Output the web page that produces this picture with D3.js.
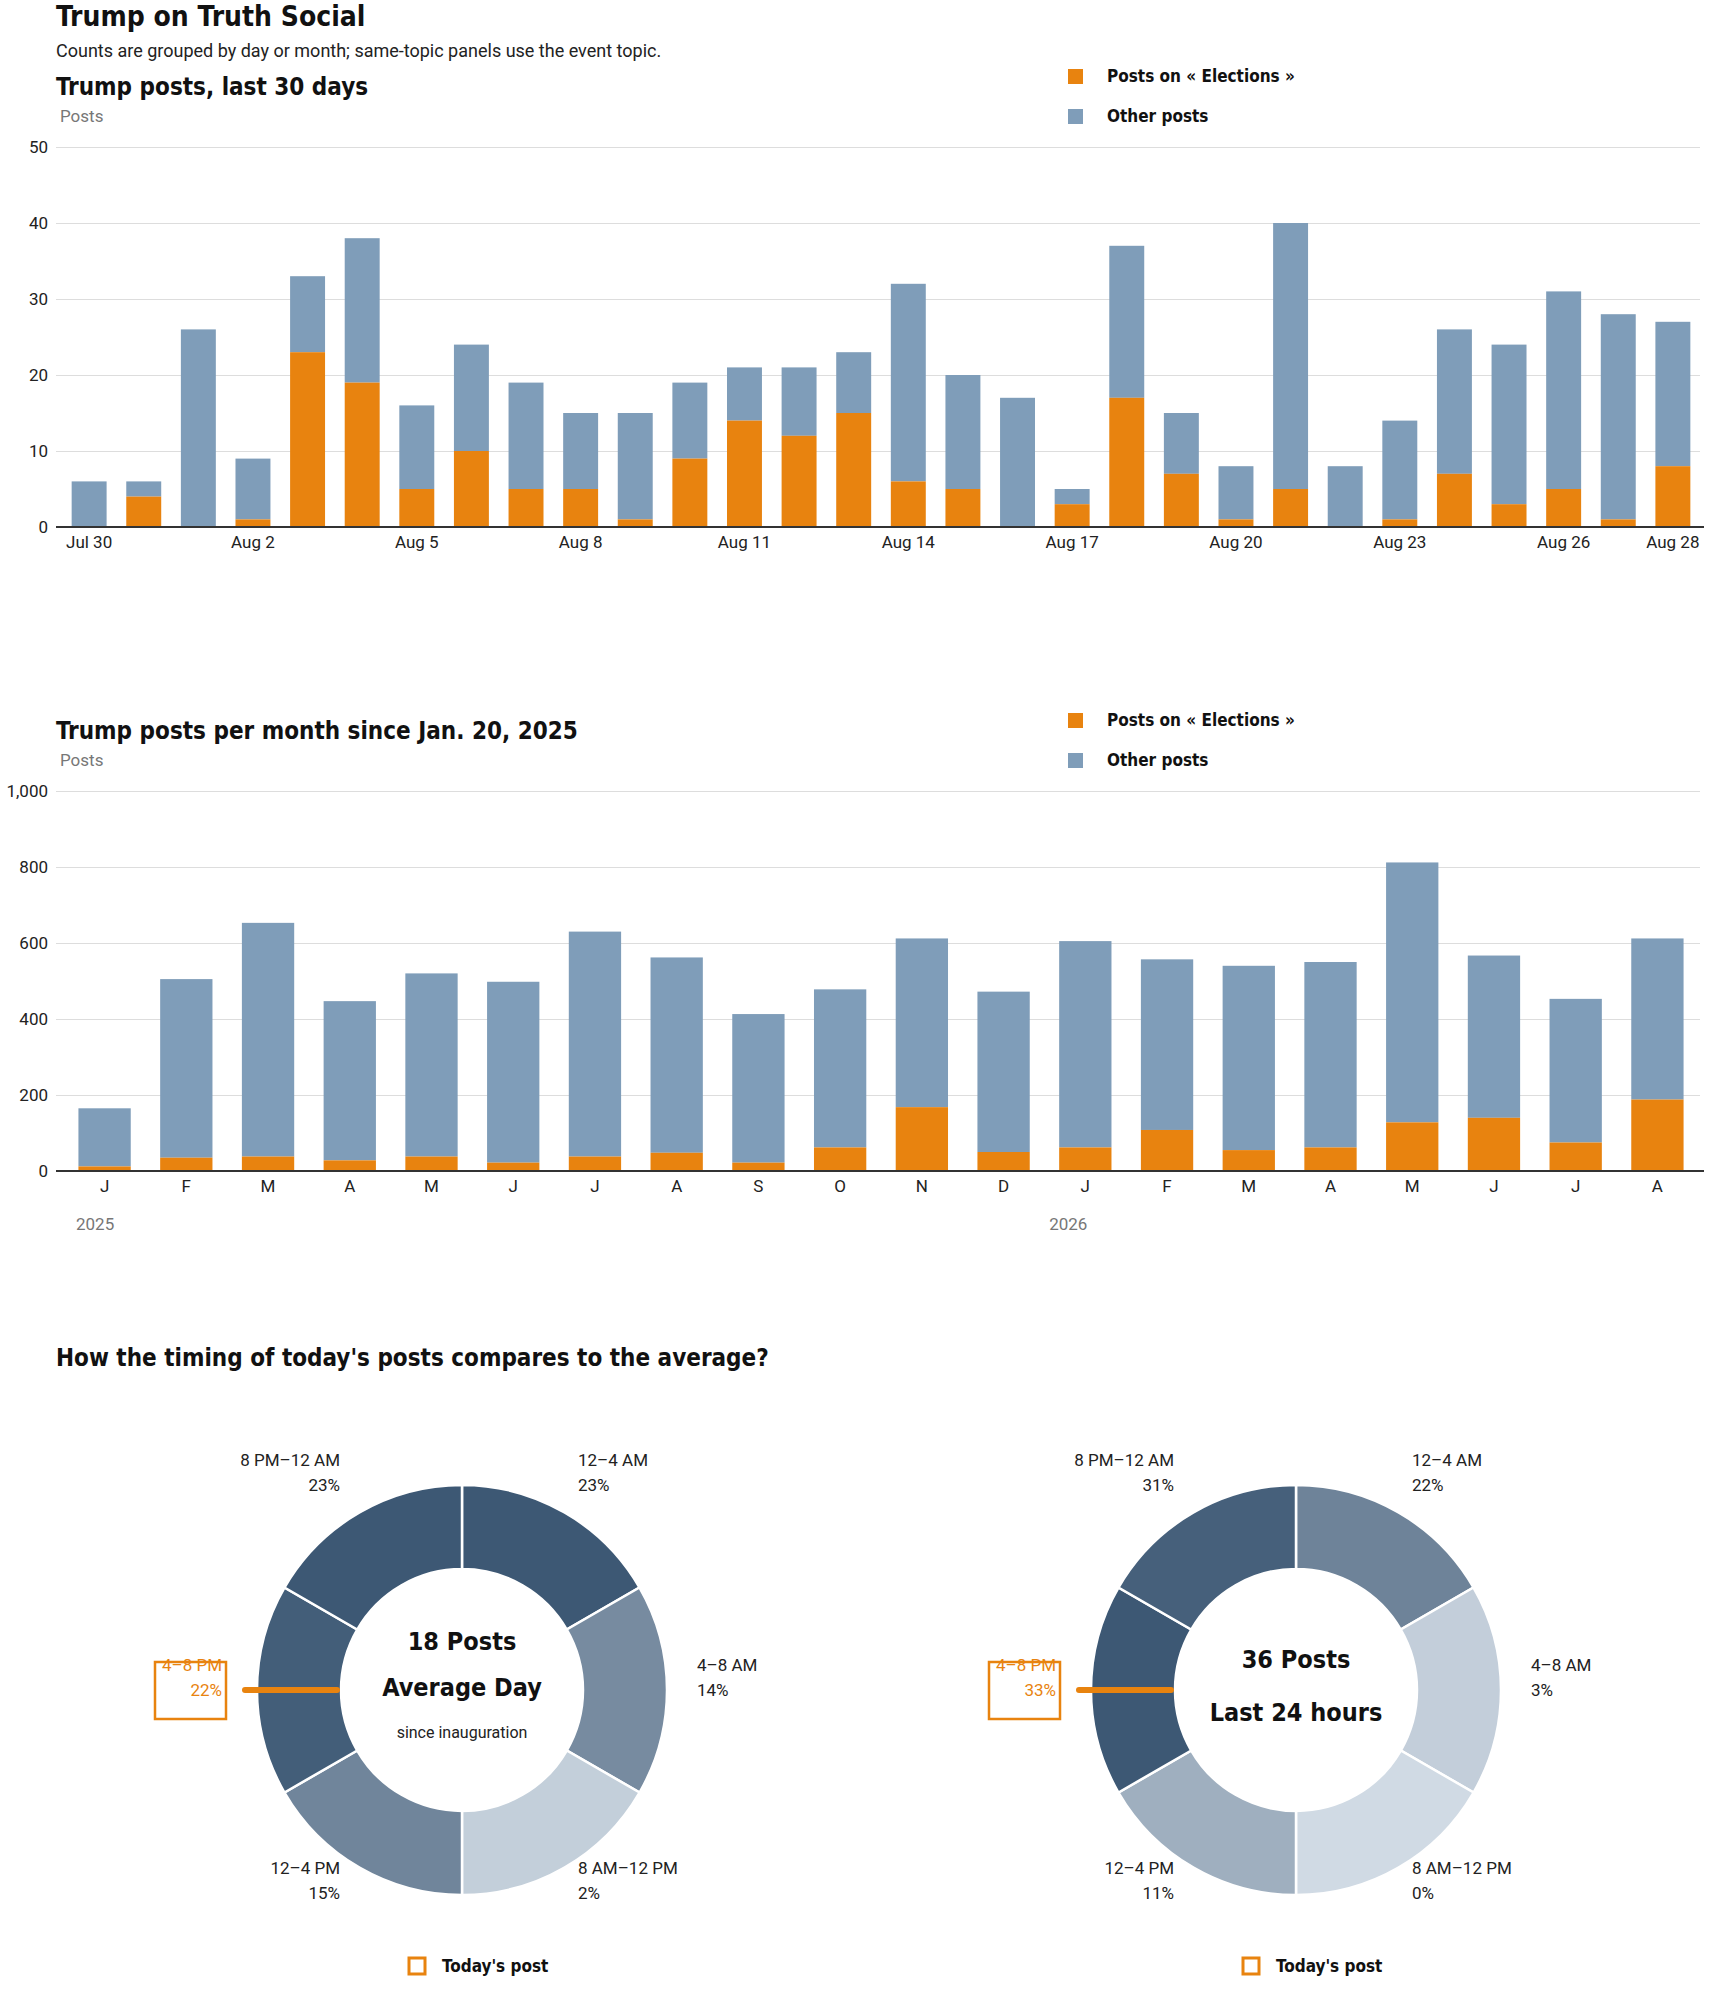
<!DOCTYPE html>
<html><head><meta charset="utf-8">
<script src="https://cdn.jsdelivr.net/npm/d3@7"></script>
<style>
body{margin:0;background:#fff}
text{font-family:Roboto,"Noto Sans",sans-serif}
.hd{font-family:"DejaVu Sans Condensed","DejaVu Sans",sans-serif;font-weight:bold;fill:#111}
</style></head><body>
<svg id="c" width="1710" height="1993"></svg>
<script>
var days = ["Jul 30","Jul 31","Aug 1","Aug 2","Aug 3","Aug 4","Aug 5","Aug 6","Aug 7","Aug 8","Aug 9","Aug 10","Aug 11","Aug 12","Aug 13","Aug 14","Aug 15","Aug 16","Aug 17","Aug 18","Aug 19","Aug 20","Aug 21","Aug 22","Aug 23","Aug 24","Aug 25","Aug 26","Aug 27","Aug 28"];
var dayTotal = [6,6,26,9,33,38,16,24,19,15,15,19,21,21,23,32,20,17,5,37,15,8,40,8,14,26,24,31,28,27];
var dayElect = [0,4,0,1,23,19,5,10,5,5,1,9,14,12,15,6,5,0,3,17,7,1,5,0,1,7,3,5,1,8];
var dayTicks = ["Jul 30","Aug 2","Aug 5","Aug 8","Aug 11","Aug 14","Aug 17","Aug 20","Aug 23","Aug 26","Aug 28"];

var months = ["J","F","M","A","M","J","J","A","S","O","N","D","J","F","M","A","M","J","J","A"];
var monTotal = [165,505,653,447,520,498,630,562,413,478,612,472,605,557,540,550,812,567,453,612];
var monElect = [12,35,38,28,38,22,38,48,22,62,168,50,62,108,55,62,128,140,75,188];

var slots = ["12–4 AM","4–8 AM","8 AM–12 PM","12–4 PM","4–8 PM","8 PM–12 AM"];
var avgPct = [23,14,2,15,22,23];
var todayPct = [22,3,0,11,33,31];

var ORANGE = "#e8830f", BLUE = "#7f9db9";
var svg = d3.select("#c");

svg.append("text").attr("class","hd").attr("x",56).attr("y",26).attr("font-size",28).text("Trump on Truth Social");
svg.append("text").attr("x",56).attr("y",57).attr("font-size",18).attr("fill","#222").text("Counts are grouped by day or month; same-topic panels use the event topic.");

function legend(y){
  var g = svg.append("g");
  [["Posts on « Elections »",ORANGE],["Other posts",BLUE]].forEach(function(d,i){
    g.append("rect").attr("x",1068).attr("y",y+i*40-8).attr("width",15).attr("height",15).attr("fill",d[1]);
    g.append("text").attr("class","hd").attr("x",1107).attr("y",y+i*40+5).attr("font-size",17).text(d[0]);
  });
}

function barChart(opt){
  svg.append("text").attr("class","hd").attr("x",56).attr("y",opt.top-52).attr("font-size",24).text(opt.title);
  svg.append("text").attr("x",60).attr("y",opt.top-25).attr("font-size",17).attr("fill","#777").text("Posts");
  legend(opt.top-70);
  var x = d3.scaleBand().domain(d3.range(opt.total.length)).range([58,1704]).paddingInner(0.36).paddingOuter(0.25);
  var y = d3.scaleLinear().domain([0,opt.max]).range([opt.bottom,opt.top]);
  var g = svg.append("g");
  g.append("g").attr("transform","translate(56,0)")
    .call(d3.axisLeft(y).tickValues(opt.ticks).tickSize(-1644).tickPadding(8))
    .call(function(a){a.select(".domain").remove();
      a.selectAll(".tick line").attr("stroke","#ddd");
      a.selectAll(".tick text").attr("font-size",17).attr("fill","#222");});
  g.selectAll(".o").data(opt.total).enter().append("rect")
    .attr("x",function(d,i){return x(i);}).attr("width",x.bandwidth())
    .attr("y",function(d){return y(d);}).attr("height",function(d,i){return y(opt.elect[i])-y(d);})
    .attr("fill",BLUE);
  g.selectAll(".e").data(opt.elect).enter().append("rect")
    .attr("x",function(d,i){return x(i);}).attr("width",x.bandwidth())
    .attr("y",function(d){return y(d);}).attr("height",function(d){return opt.bottom-y(d);})
    .attr("fill",ORANGE);
  g.append("line").attr("x1",56).attr("x2",1704).attr("y1",opt.bottom).attr("y2",opt.bottom).attr("stroke","#333").attr("stroke-width",2);
  opt.labels.forEach(function(l,i){
    if(!l) return;
    g.append("text").attr("x",x(i)+x.bandwidth()/2).attr("y",opt.bottom+21).attr("text-anchor","middle")
      .attr("font-size",17).attr("fill","#222").text(l);
  });
  return x;
}

barChart({title:"Trump posts, last 30 days",top:147,bottom:527,max:50,ticks:[0,10,20,30,40,50],
  total:dayTotal,elect:dayElect,labels:days.map(function(d){return dayTicks.indexOf(d)>=0?d:"";})});
var xm = barChart({title:"Trump posts per month since Jan. 20, 2025",top:791,bottom:1171,max:1000,ticks:[0,200,400,600,800,1000],
  total:monTotal,elect:monElect,labels:months});
svg.append("text").attr("x",76).attr("y",1230).attr("font-size",17).attr("fill","#777").text("2025");
svg.append("text").attr("x",xm(12)-10).attr("y",1230).attr("font-size",17).attr("fill","#777").text("2026");

svg.append("text").attr("class","hd").attr("x",56).attr("y",1366).attr("font-size",24).text("How the timing of today's posts compares to the average?");

function donut(cx,cy,pct,l1,l2,l3,hi){
  var g = svg.append("g").attr("transform","translate("+cx+","+cy+")");
  var col = d3.scaleLinear().domain([0,d3.max(pct)]).range(["#d0dae4","#3d5874"]);
  var pie = d3.pie().value(1).sort(null)(pct);
  var arc = d3.arc().innerRadius(121).outerRadius(205);
  g.selectAll("path").data(pie).enter().append("path").attr("d",arc)
    .attr("fill",function(d){return col(d.data);}).attr("stroke","#fff").attr("stroke-width",2.5);
  var pos = [[116,-224,"start"],[235,-19,"start"],[116,184,"start"],[-122,184,"end"],[-240,-19,"end"],[-122,-224,"end"]];
  pos.forEach(function(p,i){
    var t = g.append("text").attr("text-anchor",p[2]).attr("font-size",17).attr("fill",i===hi?ORANGE:"#222");
    t.append("tspan").attr("x",p[0]).attr("y",p[1]).text(slots[i]);
    t.append("tspan").attr("x",p[0]).attr("y",p[1]+25).text(pct[i]+"%");
  });
  g.append("rect").attr("x",-307).attr("y",-28).attr("width",71).attr("height",57).attr("fill","none").attr("stroke",ORANGE).attr("stroke-width",2.5);
  g.append("line").attr("x1",-217).attr("x2",-125).attr("y1",0).attr("y2",0).attr("stroke",ORANGE).attr("stroke-width",6).attr("stroke-linecap","round");
  if(l3){
    g.append("text").attr("class","hd").attr("text-anchor","middle").attr("y",-40).attr("font-size",25).text(l1);
    g.append("text").attr("class","hd").attr("text-anchor","middle").attr("y",6).attr("font-size",25).text(l2);
    g.append("text").attr("text-anchor","middle").attr("y",48).attr("font-size",16).attr("fill","#222").text(l3);
  } else {
    g.append("text").attr("class","hd").attr("text-anchor","middle").attr("y",-22).attr("font-size",25).text(l1);
    g.append("text").attr("class","hd").attr("text-anchor","middle").attr("y",31).attr("font-size",25).text(l2);
  }
  g.append("rect").attr("x",-53).attr("y",268).attr("width",16).attr("height",16).attr("fill","none").attr("stroke",ORANGE).attr("stroke-width",3);
  g.append("text").attr("class","hd").attr("x",-20).attr("y",282).attr("font-size",17).text("Today's post");
}
donut(462,1690,avgPct,"18 Posts","Average Day","since inauguration",4);
donut(1296,1690,todayPct,"36 Posts","Last 24 hours",null,4);
</script></body></html>
